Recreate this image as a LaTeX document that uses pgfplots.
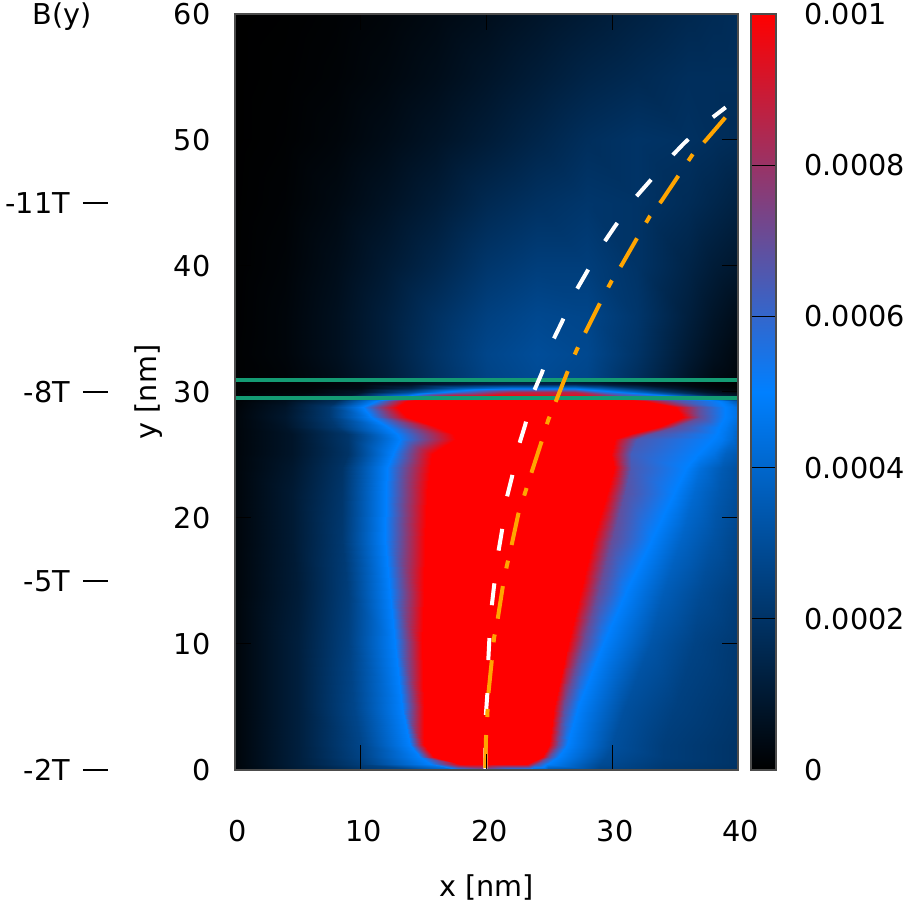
\documentclass[border=0pt]{standalone}
\usepackage{pgfplots}
\usepackage{fontspec}
\setmainfont{DejaVu Sans}
\pgfplotsset{compat=1.18,
  colormap={bbr}{rgb255(0)=(0,0,0); rgb255(5)=(0,128,255); rgb255(10)=(255,0,0)},
  colormap name=bbr}
\newcommand\fs{\fontsize{28.7}{34}\selectfont}
\pgfplotstableread{
x y z
0 0 .2
5 0 1.1
10 0 2
15 0 3
17.5 0 4
20 0 6
22.5 0 4
23.5 0 3.6
25 0 3.2
29 0 2.6
34 0 2.2
40 0 1.9
0 0.5 .2
5 0.5 1.2
10 0.5 2.4
15.6 0.5 5
17.9 0.5 10
20 0.5 10
23.2 0.5 10
23.9 0.5 7
24.8 0.5 5
29 0.5 2.9
34 0.5 2.3
40 0.5 2
0 1 .2
5 1 1.2
10 1 2.6
14.7 1 5
15.8 1 10
20 1 10
24.4 1 10
25 1 7
25.7 1 5
29.5 1 3
34 1 2.4
40 1 2
0 2 .2
5 2 1.2
10 2 2.7
13.9 2 5
15 2 10
20 2 10
25 2 10
25.7 2 7
26.4 2 5
30 2 3.1
34 2 2.4
40 2 2
0 5 .2
5 5 1.2
9.5 5 2.7
13.3 5 5
15 5 10
20 5 10
25.4 5 10
26.2 5 7
27.3 5 5
31 5 3.1
35 5 2.5
40 5 2.1
0 10 .2
5 10 1.2
9 10 2.5
12.7 10 5
14.9 10 10
20 10 10
26.5 10 10
27.7 10 7
29.3 10 5
33 10 3.3
36.5 10 2.6
40 10 2.2
0 14 .2
5 14 1.1
9 14 2.4
12.3 14 5
15 14 10
20 14 10
27.4 14 10
28.9 14 7
31 14 5
34 14 3.6
37 14 2.9
40 14 2.4
0 18.3 .2
4.5 18.3 1
8.5 18.3 2.2
11.9 18.3 5
15.1 18.3 10
20 18.3 10
28.5 18.3 10
30 18.3 7
33.2 18.3 5
35.5 18.3 3.9
38 18.3 3.2
40 18.3 2.7
0 22 .2
4.5 22 1
8.5 22 2.1
12 22 5
15.3 22 10
20 22 10
29.6 22 10
31 22 6.8
34.9 22 5
36.5 22 4.1
38.5 22 3.4
40 22 3
0 24 .2
4.5 24 .9
8.5 24 2
12.1 24 5
15.5 24 10
20 24 10
30.1 24 10
31.5 24 6.5
35.9 24 5
37 24 4.3
38.7 24 3.5
40 24 3.1
0 25.1 .2
4.5 25.1 .8
9 25.1 2
12.6 25.1 5
15.7 25.1 10
20 25.1 10
29.9 25.1 10
31.5 25.1 6.3
36.8 25.1 5
38 25.1 4.5
39 25.1 3.8
40 25.1 3.4
0 26.3 .2
4.5 26.3 .8
9 26.3 2.1
13.1 26.3 5
17.6 26.3 10
20 26.3 10
30.2 26.3 10
32 26.3 6.5
38 26.3 5
38.8 26.3 4.7
39.5 26.3 4.2
40 26.3 3.7
0 26.7 .2
4.5 26.7 .8
9 26.7 2.1
12.9 26.7 5
17.3 26.7 10
20 26.7 10
31.4 26.7 10
33 26.7 6.8
38.3 26.7 5
38.9 26.7 4.7
39.5 26.7 4.3
40 26.7 3.8
0 27.2 .2
4 27.2 .8
8 27.2 2.2
12.2 27.2 5
16.1 27.2 10
20 27.2 10
33.6 27.2 10
35 27.2 7
38.5 27.2 5
39 27.2 4.8
39.5 27.2 4.4
40 27.2 4
0 28 .2
4 28 .9
7.5 28 2.2
10.8 28 5
13.7 28 10
20 28 10
35.6 28 10
37 28 7
39 28 5
39.4 28 4.8
39.7 28 4.6
40 28 4.4
0 28.8 .15
4 28.8 .8
7.5 28.8 2.2
10.2 28.8 5
12.9 28.8 10
20 28.8 10
35 28.8 10
36.8 28.8 7
39 28.8 5
39.4 28.8 4.8
39.7 28.8 4.6
40 28.8 4.3
0 29.3 .1
4 29.3 .6
8 29.3 1.8
11.2 29.3 5
13.7 29.3 10
20 29.3 10
32.5 29.3 10
35 29.3 7
38.5 29.3 5
39.1 29.3 4.5
39.6 29.3 3.8
40 29.3 3.4
0 29.7 .05
4 29.7 .3
9 29.7 1
13.5 29.7 5
17 29.7 9.5
20 29.7 10
28 29.7 9.5
31 29.7 7
35 29.7 5
37 29.7 3
38.5 29.7 1.5
40 29.7 1
0 30 .03
6 30 .2
10 30 .8
14 30 3
18 30 6
22 30 8.5
27 30 8.5
29 30 6
32 30 4
35 30 2
37.5 30 .8
40 30 .3
0 30.3 .03
6 30.3 .15
10 30.3 .4
14 30.3 1.5
18 30.3 3.5
22 30.3 4.5
27 30.3 4.5
29 30.3 3.5
32 30.3 2
35 30.3 .9
37.5 30.3 .3
40 30.3 .1
0 30.6 .02
6 30.6 .1
10 30.6 .3
14 30.6 .7
18 30.6 1.2
22 30.6 1.5
27 30.6 1.5
29 30.6 1.2
32 30.6 .7
35 30.6 .4
37.5 30.6 .15
40 30.6 .05
0 30.9 .02
4 30.9 .05
8 30.9 .15
12 30.9 .4
16 30.9 .8
20 30.9 1.1
24 30.9 1.1
28 30.9 .9
32 30.9 .5
36 30.9 .2
38 30.9 .1
40 30.9 .05
0 31 .05
4 31 .15
8 31 .5
12 31 1.1
16 31 1.9
20 31 2.6
24 31 2.9
28 31 2.7
32 31 1.8
36 31 .8
38 31 .4
40 31 .2
0 33 .05
4 33 .2
8 33 .6
12 33 1.2
16 33 2
20 33 2.7
24 33 3
28 33 2.8
32 33 2
36 33 1
38 33 .6
40 33 .3
0 36 .03
4 36 .2
8 36 .6
12 36 1.2
16 36 1.9
20 36 2.5
24 36 2.8
28 36 2.7
32 36 2.1
36 36 1.2
38 36 .8
40 36 .5
0 40 .02
4 40 .15
8 40 .5
12 40 1
16 40 1.5
20 40 2.1
24 40 2.4
28 40 2.4
32 40 2
36 40 1.4
38 40 1.1
40 40 .9
0 45 .01
4 45 .1
8 45 .35
12 45 .7
16 45 1.1
20 45 1.6
24 45 1.9
28 45 2.1
32 45 2
36 45 1.7
38 45 1.5
40 45 1.3
0 50 0
4 50 .06
8 50 .2
12 50 .45
16 50 .75
20 50 1.1
24 50 1.45
28 50 1.8
32 50 2
36 50 1.9
38 50 1.8
40 50 1.7
0 55 0
4 55 .04
8 55 .12
12 55 .28
16 55 .5
20 55 .8
24 55 1.1
28 55 1.4
32 55 1.6
36 55 1.8
38 55 1.8
40 55 1.8
0 60 0
4 60 .02
8 60 .08
12 60 .18
16 60 .35
20 60 .55
24 60 .8
28 60 1.05
32 60 1.3
36 60 1.55
38 60 1.65
40 60 1.75
}\heat
\pgfplotstableread{
x y z
0 0 0
1 0 0
0 5 5
1 5 5
0 10 10
1 10 10
}\cbar
\begin{document}
\begin{tikzpicture}
\path[use as bounding box] (0pt,0pt) rectangle (913pt,908pt);
\begin{axis}[
  at={(235pt,138pt)}, anchor=south west,
  scale only axis, width=503pt, height=756pt,
  xmin=0, xmax=40, ymin=0, ymax=60,
  xtick={0,10,20,30,40}, ytick={0,10,20,30,40,50,60},
  clip=false, axis on top,
  axis line style={line width=1.2pt,color=black!70},
  major tick length=16pt,
  tick style={black,line width=1pt},
  tick align=inside,
  xticklabel style={font=\fs,xshift=3pt,yshift=-47pt},
  yticklabel style={font=\fs,xshift=-21pt},
  /pgf/number format/assume math mode=true,
  xlabel={x [nm]}, ylabel={y [nm]},
  xlabel style={font=\fs,at={(axis description cs:0.5,-0.156)},anchor=center},
  ylabel style={font=\fs,at={(axis description cs:-0.171,0.5)},anchor=center},
  point meta min=0, point meta max=10,
]
\addplot[surf,shader=interp,mesh/cols=12,mesh/ordering=x varies,point meta=explicit,forget plot] table[x=x,y=y,meta=z] {\heat};
\addplot[ycomb,black,line width=1pt,no marks,forget plot] coordinates {(10,2)(20,2)(30,2)};
\addplot[no marks,line width=4.4pt,color={rgb,255:red,20;green,155;blue,115},line cap=butt] coordinates {(0,30.95)(40,30.95)};
\addplot[no marks,line width=4.4pt,color={rgb,255:red,20;green,155;blue,115},line cap=butt] coordinates {(0,29.52)(40,29.52)};
\addplot[no marks,white,line width=4pt,dash pattern=on 22pt off 33pt] coordinates {
(19.90,0)(19.94,4.23)(20.06,5.95)(20.14,8.65)(20.22,10.24)(20.41,12.96)(20.6,14.6)(20.94,17.28)(21.21,18.87)(21.6,21.56)(22.0,23.15)(22.58,25.79)(23.06,27.33)(23.72,29.94)(24.39,31.48)(25.23,33.98)(25.98,35.52)(27.04,37.9)(27.89,39.37)(29.21,41.67)(30.16,43.07)(31.67,45.24)(32.79,46.51)(34.51,48.49)(35.71,49.74)(37.64,51.53)(39.02,52.59)};
\addplot[no marks,color={rgb,255:red,255;green,165;blue,0},line width=4pt,dash pattern=on 33pt off 18pt on 8pt off 16pt] coordinates {
(19.90,0.16)(19.96,2.54)(20.06,4.23)(20.14,5.95)(20.41,8.6)(20.6,10.48)(20.89,11.98)(21.29,14.52)(21.6,16.13)(22.0,17.86)(22.53,20.32)(23.06,21.98)(23.6,23.67)(24.39,26.1)(24.91,27.78)(25.53,29.3)(26.5,31.75)(27.17,33.33)(27.89,34.79)(29.08,37.17)(29.96,38.83)(30.75,40.08)(32.07,42.38)(33.0,43.97)(33.93,45.18)(35.39,47.36)(36.45,48.94)(37.46,50.0)(39.23,52.06)};
\addplot[no marks,black,line width=1.3pt] coordinates {(-12.09,45)(-10.1,45)};
\addplot[no marks,black,line width=1.3pt] coordinates {(-12.09,30)(-10.1,30)};
\addplot[no marks,black,line width=1.3pt] coordinates {(-12.09,15)(-10.1,15)};
\addplot[no marks,black,line width=1.3pt] coordinates {(-12.09,0)(-10.1,0)};
\node[font=\fs,anchor=east,inner sep=0pt] at (axis cs:-13.12,45) {-11T};
\node[font=\fs,anchor=east,inner sep=0pt] at (axis cs:-13.12,30) {-8T};
\node[font=\fs,anchor=east,inner sep=0pt] at (axis cs:-13.12,15) {-5T};
\node[font=\fs,anchor=east,inner sep=0pt] at (axis cs:-13.12,0) {-2T};
\node[font=\fs,anchor=base,inner sep=0pt] at (axis cs:-13.76,59.13) {B(y)};
\end{axis}
\begin{axis}[
  at={(751pt,138pt)}, anchor=south west,
  scale only axis, width=25pt, height=756pt,
  xmin=0, xmax=1, ymin=0, ymax=10,
  xtick=\empty,
  ytick={0,2,4,6,8,10},
  yticklabels={0,0.0002,0.0004,0.0006,0.0008,0.001},
  ytick pos=right, yticklabel pos=right,
  axis on top, tick align=inside,
  major tick length=25pt,
  tick style={black,line width=1pt},
  yticklabel style={font=\fs,anchor=west,xshift=25pt},
  axis line style={line width=1.2pt,color=black!70},
  point meta min=0, point meta max=10,
]
\addplot[surf,shader=interp,mesh/cols=2,mesh/ordering=x varies,point meta=explicit,forget plot] table[x=x,y=y,meta=z] {\cbar};
\end{axis}
\end{tikzpicture}
\end{document}
